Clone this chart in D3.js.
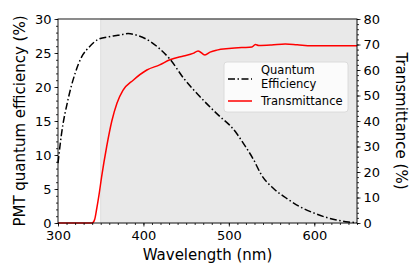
<!DOCTYPE html>
<html>
<head>
<meta charset="utf-8">
<script src="https://cdn.jsdelivr.net/npm/d3@7"></script>
<style>
  body { margin: 0; background: #fff; }
  text { font-family: "DejaVu Sans", sans-serif; fill: #000; }
</style>
</head>
<body>
<svg id="chart"></svg>
<script>
// Quantum efficiency (%) vs wavelength (nm)
const qeWavelength = [300, 304, 312, 320, 328, 336, 347, 360, 370, 382, 395, 408, 420, 431, 447, 466, 480, 490, 500, 509, 517, 529, 538, 552, 568, 583, 597, 612, 626, 640, 650];
const qeValues     = [8.8, 13, 18.3, 22, 24.5, 25.8, 27.0, 27.4, 27.6, 27.85, 27.5, 26.7, 25.5, 24.1, 21.3, 18.6, 16.8, 15.6, 14.5, 13.2, 11.7, 9.3, 7.1, 5.1, 3.6, 2.4, 1.6, 0.9, 0.45, 0.15, 0.05];

// Transmittance (%) vs wavelength (nm)
const trWavelength = [300, 340, 343, 345, 348, 351, 357, 363, 369, 376, 388, 404, 419, 431, 447, 458, 464, 472, 478, 486, 500, 515, 527, 531, 535, 550, 566, 580, 597, 620, 650];
const trValues     = [0, 0, 1.5, 5, 11, 18, 30, 40, 47, 52, 56, 60, 62, 64, 65.5, 66.5, 67.5, 65.9, 67, 67.8, 68.4, 68.8, 69, 70, 69.6, 69.8, 70.2, 69.9, 69.5, 69.5, 69.5];

const xTicks = [300, 400, 500, 600];
const leftTicks = [0, 5, 10, 15, 20, 25, 30];
const rightTicks = [0, 10, 20, 30, 40, 50, 60, 70, 80];
const shadeRange = [350, 650];

const width = 415, height = 277;
const margin = {top: 19, bottom: 54, left: 58, right: 58};

const svg = d3.select("#chart")
  .attr("width", width)
  .attr("height", height);

const x = d3.scaleLinear().domain([300, 650]).range([margin.left, width - margin.right]);
const yL = d3.scaleLinear().domain([0, 30]).range([height - margin.bottom, margin.top]);
const yR = d3.scaleLinear().domain([0, 80]).range([height - margin.bottom, margin.top]);

// shaded band
svg.append("rect")
  .attr("x", x(shadeRange[0]))
  .attr("y", yL(30))
  .attr("width", x(shadeRange[1]) - x(shadeRange[0]))
  .attr("height", yL(0) - yL(30))
  .attr("fill", "#e9e9e9")
  .attr("stroke", "#d9d9d9")
  .attr("stroke-width", 0.8);

// curves
const qeLine = d3.line()
  .x((d, i) => x(qeWavelength[i]))
  .y(d => yL(d))
  .curve(d3.curveMonotoneX);

const trLine = d3.line()
  .x((d, i) => x(trWavelength[i]))
  .y(d => yR(d))
  .curve(d3.curveMonotoneX);

svg.append("path")
  .datum(trValues)
  .attr("d", trLine)
  .attr("fill", "none")
  .attr("stroke", "#ff0000")
  .attr("stroke-width", 1.5);

svg.append("path")
  .datum(qeValues)
  .attr("d", qeLine)
  .attr("fill", "none")
  .attr("stroke", "#000")
  .attr("stroke-width", 1.5)
  .attr("stroke-dasharray", "7,2.5,1.5,2.5");

// axes
function styleAxis(g) {
  g.select(".domain").remove();
  g.selectAll("text").style("font-size", "13px").style("font-family", "DejaVu Sans");
  g.selectAll("line").attr("stroke", "#000").attr("stroke-width", 0.8);
}

const bottom = svg.append("g")
  .attr("transform", `translate(0,${height - margin.bottom})`);
bottom.append("g")
  .call(d3.axisBottom(x).tickValues(d3.range(300, 651, 10)).tickSize(2).tickFormat(""))
  .call(styleAxis);
bottom.append("g")
  .call(d3.axisBottom(x).tickValues(xTicks).tickSize(3.5).tickPadding(4))
  .call(styleAxis);

const left = svg.append("g")
  .attr("transform", `translate(${margin.left},0)`);
left.append("g")
  .call(d3.axisLeft(yL).tickValues(d3.range(0, 31, 1)).tickSize(2).tickFormat(""))
  .call(styleAxis);
left.append("g")
  .call(d3.axisLeft(yL).tickValues(leftTicks).tickSize(3.5).tickPadding(3))
  .call(styleAxis);

const right = svg.append("g")
  .attr("transform", `translate(${width - margin.right},0)`);
right.append("g")
  .call(d3.axisRight(yR).tickValues(d3.range(0, 81, 2)).tickSize(2).tickFormat(""))
  .call(styleAxis);
right.append("g")
  .call(d3.axisRight(yR).tickValues(rightTicks).tickSize(3.5).tickPadding(3))
  .call(styleAxis);

// frame
svg.append("rect")
  .attr("x", margin.left)
  .attr("y", margin.top)
  .attr("width", width - margin.left - margin.right)
  .attr("height", height - margin.top - margin.bottom)
  .attr("fill", "none")
  .attr("stroke", "#000")
  .attr("stroke-width", 0.9);

// axis labels
svg.append("text")
  .attr("x", (margin.left + width - margin.right) / 2)
  .attr("y", 260)
  .attr("text-anchor", "middle")
  .style("font-size", "15px")
  .text("Wavelength (nm)");

svg.append("text")
  .attr("transform", `translate(25,${(margin.top + height - margin.bottom) / 2}) rotate(-90)`)
  .attr("text-anchor", "middle")
  .style("font-size", "15px")
  .text("PMT quantum efficiency (%)");

svg.append("text")
  .attr("transform", `translate(396,${(margin.top + height - margin.bottom) / 2}) rotate(90)`)
  .attr("text-anchor", "middle")
  .style("font-size", "15px")
  .text("Transmittance (%)");

// legend
const legend = svg.append("g").attr("transform", "translate(224,62)");
legend.append("rect")
  .attr("width", 124)
  .attr("height", 50)
  .attr("rx", 3)
  .attr("fill", "#fff")
  .attr("fill-opacity", 0.8)
  .attr("stroke", "#d6d6d6")
  .attr("stroke-width", 0.8);

legend.append("line")
  .attr("x1", 4).attr("x2", 28)
  .attr("y1", 17).attr("y2", 17)
  .attr("stroke", "#000")
  .attr("stroke-width", 1.5)
  .attr("stroke-dasharray", "7,2.5,1.5,2.5");

legend.append("line")
  .attr("x1", 4).attr("x2", 28)
  .attr("y1", 39).attr("y2", 39)
  .attr("stroke", "#ff0000")
  .attr("stroke-width", 1.5);

const legendText = legend.append("text").style("font-size", "11.5px");
legendText.append("tspan").attr("x", 37).attr("y", 12).text("Quantum");
legendText.append("tspan").attr("x", 37).attr("y", 26).text("Efficiency");
legend.append("text")
  .attr("x", 37).attr("y", 43)
  .style("font-size", "11.5px")
  .text("Transmittance");
</script>
</body>
</html>
